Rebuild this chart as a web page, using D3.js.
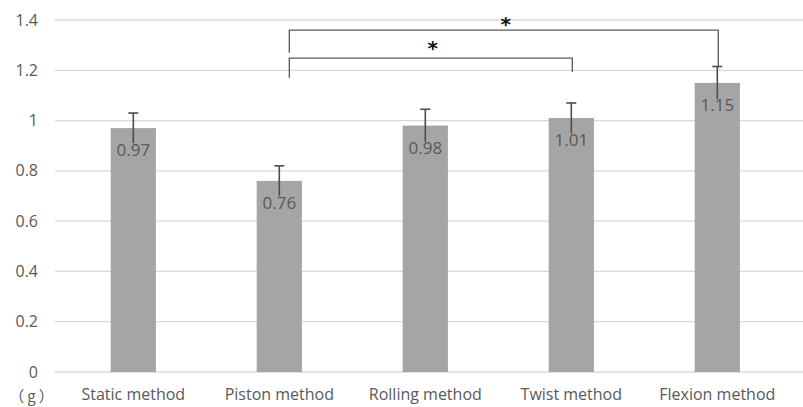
<!DOCTYPE html>
<html>
<head>
<meta charset="utf-8">
<script src="https://cdn.jsdelivr.net/npm/d3@7"></script>
<style>
  html, body { margin: 0; padding: 0; background: #fff; }
  svg { display: block; }
</style>
</head>
<body>
<svg id="chart" width="803" height="407"></svg>
<script>
// ---- data ----
const categories = ["Static method", "Piston method", "Rolling method", "Twist method", "Flexion method"];
const values = [0.97, 0.76, 0.98, 1.01, 1.15];
const errors = [0.06, 0.06, 0.065, 0.06, 0.065];
const yTicks = [0, 0.2, 0.4, 0.6, 0.8, 1, 1.2, 1.4];
const unitLabel = "（g）";
// significance brackets: [from category, to category, bar level, left end, right end]
const brackets = [
  { from: "Piston method", to: "Twist method", level: 1.248, leftEnd: 1.17, rightEnd: 1.193, label: "*" },
  { from: "Piston method", to: "Flexion method", level: 1.36, leftEnd: 1.27, rightEnd: 1.214, label: "*" }
];

// ---- layout ----
const svg = d3.select("#chart");
const fontFam = "'Open Sans', sans-serif";
const plot = { top: 20, bottom: 372 };

const x = d3.scaleBand().domain(categories).range([60.3, 790.3]).paddingInner(0.69).paddingOuter(0.345);
const y = d3.scaleLinear().domain([0, 1.4]).range([plot.bottom, plot.top]);

// gridlines
svg.append("g").selectAll("line").data(yTicks).join("line")
  .attr("x1", 55).attr("x2", 803)
  .attr("y1", d => y(d)).attr("y2", d => y(d))
  .attr("stroke", "#d9d9d9").attr("stroke-width", 1.3);

// y axis labels via d3 axis
const yAxis = d3.axisLeft(y).tickValues(yTicks).tickSize(0).tickPadding(0)
  .tickFormat(d => d3.format("~g")(d));
const yg = svg.append("g").attr("transform", "translate(38,0)").call(yAxis);
yg.select(".domain").remove();
yg.selectAll("text").attr("font-family", fontFam).attr("font-size", 16).attr("fill", "#595959");

// bars
svg.append("g").selectAll("rect").data(categories).join("rect")
  .attr("x", d => x(d)).attr("width", x.bandwidth())
  .attr("y", (d, i) => y(values[i])).attr("height", (d, i) => y(0) - y(values[i]))
  .attr("fill", "#a5a5a5");

// error bars
const eg = svg.append("g").attr("stroke", "#4d4d4d").attr("stroke-width", 1.6);
categories.forEach((c, i) => {
  const cx = x(c) + x.bandwidth() / 2;
  eg.append("line").attr("x1", cx).attr("x2", cx)
    .attr("y1", y(values[i] + errors[i])).attr("y2", y(values[i] - errors[i]));
  eg.append("line").attr("x1", cx - 5).attr("x2", cx + 5)
    .attr("y1", y(values[i] + errors[i])).attr("y2", y(values[i] + errors[i]));
});

// value labels
svg.append("g").selectAll("text").data(categories).join("text")
  .attr("x", d => x(d) + x.bandwidth() / 2)
  .attr("y", (d, i) => y(values[i]) + 28)
  .attr("text-anchor", "middle")
  .attr("font-family", fontFam).attr("font-size", 17).attr("fill", "#595959")
  .text((d, i) => d3.format(".2f")(values[i]));

// x axis labels
const xAxis = d3.axisBottom(x).tickSize(0).tickPadding(0);
const xg = svg.append("g").attr("transform", "translate(0,389)").call(xAxis);
xg.select(".domain").remove();
xg.selectAll("text").attr("font-family", fontFam).attr("font-size", 16).attr("fill", "#595959");

// unit label
svg.append("text").attr("x", 33).attr("y", 402).attr("text-anchor", "middle")
  .attr("font-family", "'Noto Sans CJK SC', sans-serif").attr("font-size", 15)
  .attr("letter-spacing", 3).attr("fill", "#595959")
  .text(unitLabel);

// significance brackets
const bg = svg.append("g");
brackets.forEach(b => {
  const x1 = x(b.from) + x.bandwidth() / 2 + 10;
  const x2 = x(b.to) + x.bandwidth() / 2 + 1;
  bg.append("path")
    .attr("d", `M${x1},${y(b.leftEnd)}V${y(b.level)}H${x2}V${y(b.rightEnd)}`)
    .attr("fill", "none").attr("stroke", "#595959").attr("stroke-width", 1.3);
  bg.append("text").attr("x", (x1 + x2) / 2 + 2).attr("y", Math.max(y(b.level) - 3, 31))
    .attr("text-anchor", "middle").attr("font-family", "'DejaVu Sans', sans-serif")
    .attr("font-weight", "bold").attr("font-size", 20).attr("fill", "#111")
    .text(b.label);
});
</script>
</body>
</html>
